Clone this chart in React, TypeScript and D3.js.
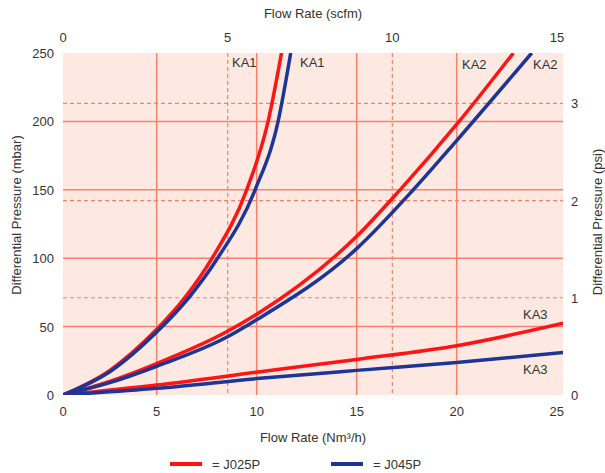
import React from 'react';
import * as d3 from 'd3';

// flow (Nm3/h) vs differential pressure (mbar)
const ka1J025P: [number, number][] = [[0, 0], [2.5, 18], [5, 48], [6.4, 71], [7.77, 100], [9.5, 150], [10.57, 200], [11.24, 250]];
const ka1J045P: [number, number][] = [[0, 0], [2.5, 17], [5, 46], [6.6, 71], [8.0, 99], [9.92, 150], [11.07, 200], [11.7, 250]];
const ka2J025P: [number, number][] = [[0, 0], [2.5, 10], [5, 23], [8.47, 46], [10, 59], [15, 116], [17.17, 150], [20.12, 200], [22.83, 250]];
const ka2J045P: [number, number][] = [[0, 0], [2.5, 9], [5, 21], [8.47, 42], [10, 55], [15, 107], [17.83, 150], [20, 186], [23.75, 250]];
const ka3J025P: [number, number][] = [[0, 0], [5, 7.3], [10.17, 17], [15, 26], [20, 36], [25.32, 52.5]];
const ka3J045P: [number, number][] = [[0, 0], [5, 4.9], [10.17, 12.2], [15, 18], [20, 23.7], [25.32, 31]];

const nmTicks = [0, 5, 10, 15, 20, 25];
const scfmTicks = [0, 5, 10, 15];
const mbarTicks = [0, 50, 100, 150, 200, 250];
const psiTicks = [0, 1, 2, 3];

const RED = '#ff1414';
const BLUE = '#1c3596';
const GRID = '#f5836b';
const FONT = '"Liberation Sans", Arial, sans-serif';

export default function App() {
  const left = 63, right = 563, top = 53, bottom = 395;

  // the printed chart's first division is a little narrower than the others
  const x = d3.scaleLinear().domain([0, 5, 25]).range([left, 156.7, 556.7]);
  const xScfm = d3.scaleLinear().domain([0, 15]).range([left, 557]);
  const y = d3.scaleLinear().domain([0, 250]).range([bottom, top]);
  const yPsi = d3.scaleLinear().domain([0, 3]).range([bottom, 103.3]);

  const line = d3.line<[number, number]>()
    .x(d => x(d[0]))
    .y(d => y(d[1]))
    .curve(d3.curveMonotoneX);

  const curves = [
    { d: ka3J025P, c: RED }, { d: ka3J045P, c: BLUE },
    { d: ka2J025P, c: RED }, { d: ka2J045P, c: BLUE },
    { d: ka1J025P, c: RED }, { d: ka1J045P, c: BLUE },
  ];

  const txt = { fontFamily: FONT, fontSize: 13, fill: '#333' };

  return (
    <svg width={605} height={473} style={{ position: 'absolute', left: 0, top: 0, background: '#fff' }}>
      <defs>
        <clipPath id="plot"><rect x={left} y={top} width={right - left} height={bottom - top} /></clipPath>
      </defs>
      <rect x={left} y={top} width={right - left} height={bottom - top} fill="#fde9e1" />

      {/* grid */}
      {[5, 10, 15, 20].map(v => (
        <line key={'vx' + v} x1={x(v)} x2={x(v)} y1={top} y2={bottom} stroke={GRID} strokeWidth={1.5} />
      ))}
      {[50, 100, 150, 200].map(v => (
        <line key={'hy' + v} x1={left} x2={right} y1={y(v)} y2={y(v)} stroke={GRID} strokeWidth={1.5} />
      ))}
      {[5, 10].map(v => (
        <line key={'vs' + v} x1={xScfm(v)} x2={xScfm(v)} y1={top} y2={bottom} stroke={GRID} strokeWidth={1.2} strokeDasharray="4,3" />
      ))}
      {[1, 2, 3].map(v => (
        <line key={'hp' + v} x1={left} x2={right} y1={yPsi(v)} y2={yPsi(v)} stroke={GRID} strokeWidth={1.2} strokeDasharray="4,3" />
      ))}

      {/* curves */}
      <g clipPath="url(#plot)">
        {curves.map((s, i) => (
          <path key={i} d={line(s.d) || ''} fill="none" stroke={s.c} strokeWidth={3.5} />
        ))}
      </g>

      {/* curve labels */}
      <g style={txt}>
        <text x={232} y={67}>KA1</text>
        <text x={300} y={67}>KA1</text>
        <text x={462} y={69}>KA2</text>
        <text x={533} y={69}>KA2</text>
        <text x={523} y={319}>KA3</text>
        <text x={523} y={374}>KA3</text>
      </g>

      {/* tick labels */}
      <g style={txt}>
        {nmTicks.map(v => (
          <text key={'b' + v} x={x(v)} y={416} textAnchor="middle">{v}</text>
        ))}
        {scfmTicks.map(v => (
          <text key={'t' + v} x={xScfm(v)} y={42} textAnchor="middle">{v}</text>
        ))}
        {mbarTicks.map(v => (
          <text key={'l' + v} x={54} y={y(v) + 5} textAnchor="end">{v}</text>
        ))}
        {psiTicks.map(v => (
          <text key={'r' + v} x={571} y={yPsi(v) + 5}>{v}</text>
        ))}
      </g>

      {/* axis titles */}
      <g style={txt}>
        <text x={313} y={18} textAnchor="middle">Flow Rate (scfm)</text>
        <text x={313} y={442} textAnchor="middle">Flow Rate (Nm³/h)</text>
        <text transform="translate(21,215) rotate(-90)" textAnchor="middle">Differential Pressure (mbar)</text>
        <text transform="translate(602,222) rotate(-90)" textAnchor="middle">Differential Pressure (psi)</text>
      </g>

      {/* legend */}
      <line x1={170} x2={202} y1={464} y2={464} stroke={RED} strokeWidth={4} />
      <text x={212} y={469} style={txt}>= J025P</text>
      <line x1={331} x2={363} y1={464} y2={464} stroke={BLUE} strokeWidth={4} />
      <text x={373} y={469} style={txt}>= J045P</text>
    </svg>
  );
}
